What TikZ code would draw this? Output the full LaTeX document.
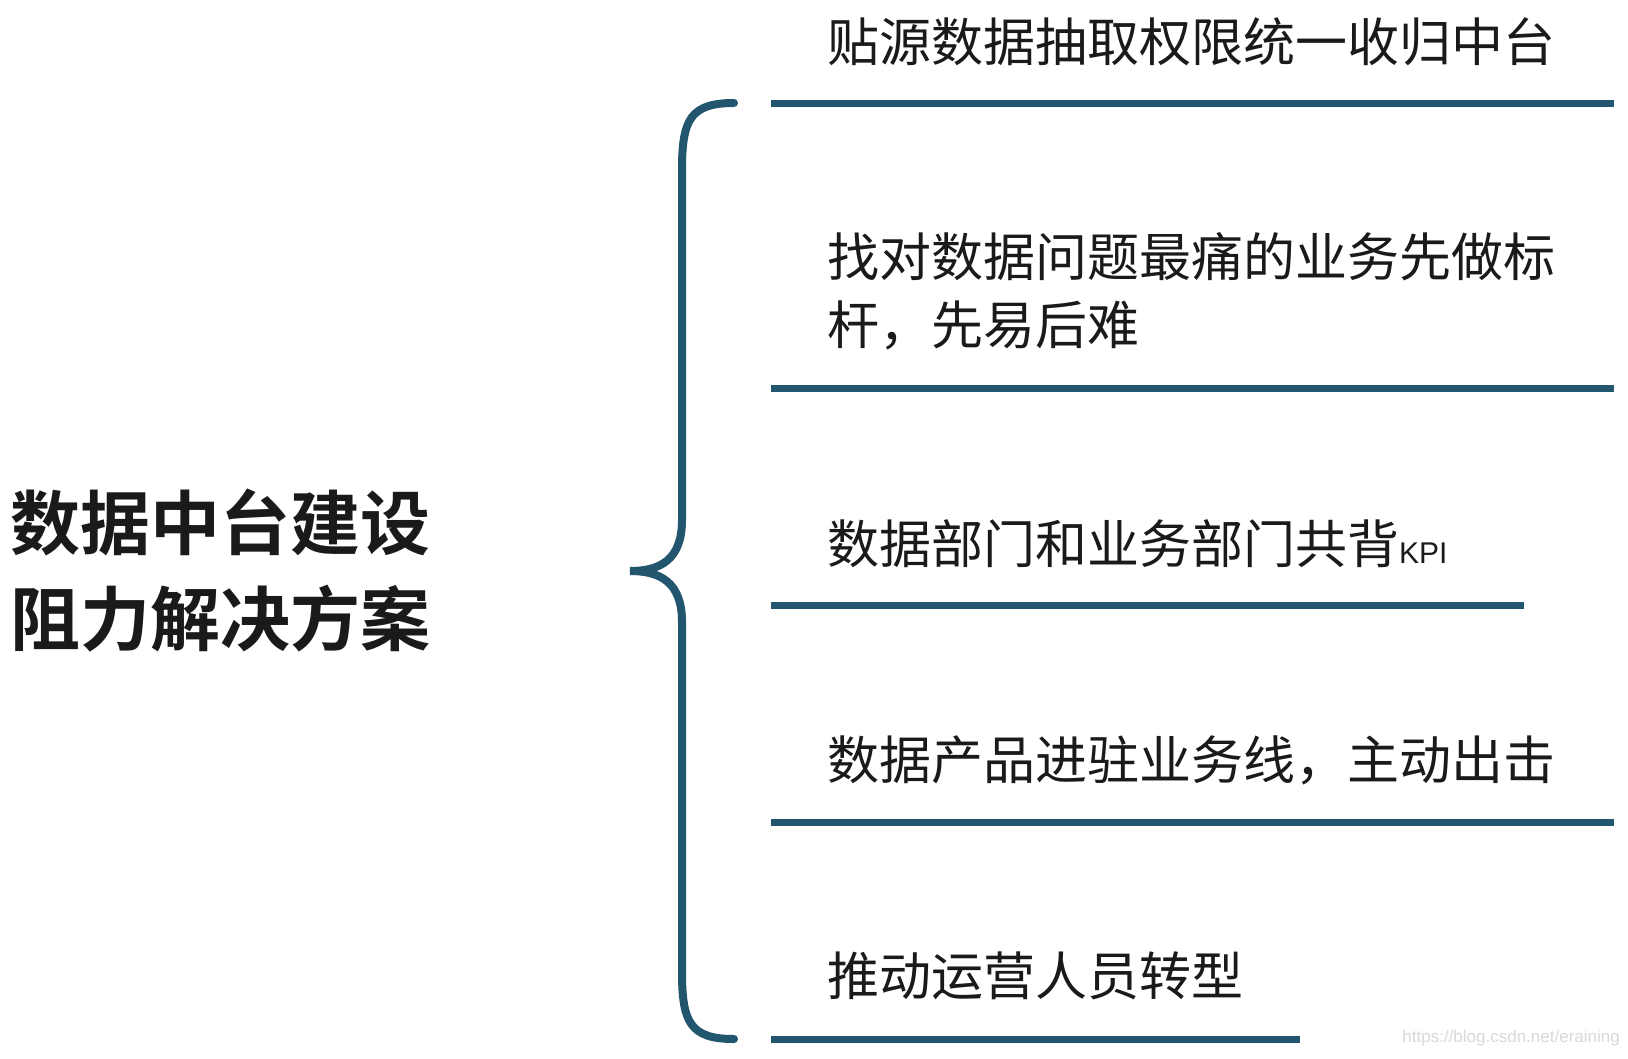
\documentclass[tikz,border=0pt]{standalone}
\usepackage{fontspec}
\newfontfamily\cjk{Noto Sans CJK SC}
\newfontfamily\cjkb{Noto Sans CJK SC Bold}
\setmainfont{Liberation Sans}
\definecolor{lc}{HTML}{22566E}
\definecolor{tc}{HTML}{1A1A1A}
\tikzset{
 hl/.style={line width=7pt,draw=lc},
 item/.style={anchor=west,inner sep=0pt,text=tc,font=\cjk\fontsize{52}{66}\selectfont,align=left},
}
\begin{document}
\begin{tikzpicture}[x=1pt,y=-1pt]
\useasboundingbox[fill=white] (0,0) rectangle (1628,1058);
% brace
\coordinate (bt) at (734,103);
\coordinate (bm) at (630,571);
\coordinate (bb) at (734,1039);
\draw[lc,line width=8pt,line cap=round] (bt) .. controls (690,103) and (682,120) .. (682,170)
 -- (682,520) .. controls (682,560) and (660,571) .. (bm)
 .. controls (660,571) and (682,582) .. (682,622)
 -- (682,972) .. controls (682,1022) and (690,1039) .. (bb);
% lines
\coordinate (l1a) at (771,103); \coordinate (l1b) at (1614,103);
\coordinate (l2a) at (771,388); \coordinate (l2b) at (1614,388);
\coordinate (l3a) at (771,605); \coordinate (l3b) at (1524,605);
\coordinate (l4a) at (771,822); \coordinate (l4b) at (1614,822);
\coordinate (l5a) at (771,1039); \coordinate (l5b) at (1300,1039);
\draw[hl] (l1a)--(l1b); \draw[hl] (l2a)--(l2b); \draw[hl] (l3a)--(l3b);
\draw[hl] (l4a)--(l4b); \draw[hl] (l5a)--(l5b);
% texts
\node[item] (t1) at (827,42) {贴源数据抽取权限统一收归中台};
\node[item,align=left,font=\cjk\fontsize{52}{68}\selectfont] (t2) at (827,291) {找对数据问题最痛的业务先做标\\杆，先易后难};
\node[item] (t3) at (827,544) {数据部门和业务部门共背{\fontspec{Liberation Sans}\fontsize{30}{30}\selectfont KPI}};
\node[item] (t4) at (827,760) {数据产品进驻业务线，主动出击};
\node[item] (t5) at (827,976) {推动运营人员转型};
\node[anchor=west,inner sep=0pt,text=tc,align=left,font=\cjkb\fontsize{70}{96}\selectfont] (title) at (10,571) {数据中台建设\\阻力解决方案};
\node[anchor=east,inner sep=0pt,text=black!15,font=\fontsize{17}{17}\selectfont] (wm) at (1620,1038) {https://blog.csdn.net/eraining};
\end{tikzpicture}
\end{document}
